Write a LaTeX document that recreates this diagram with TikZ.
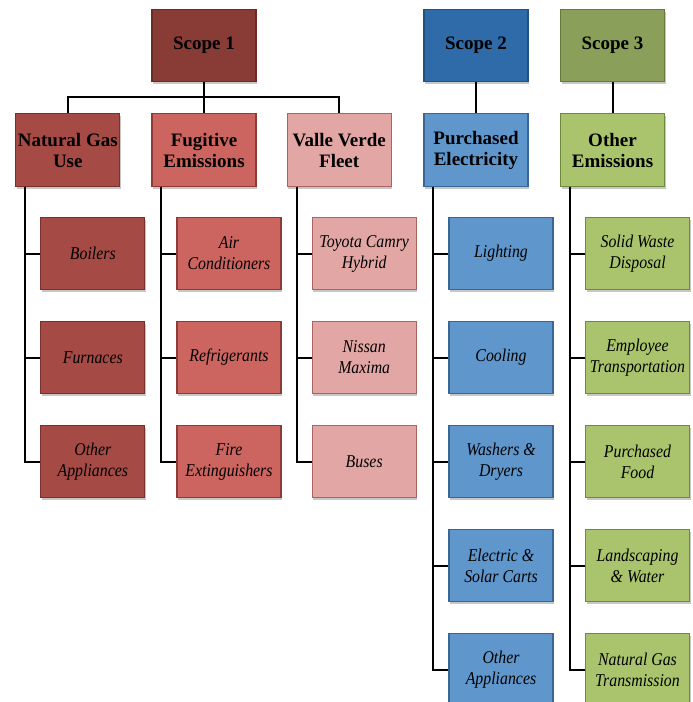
\documentclass[tikz,border=0pt]{standalone}
\usepackage{fontspec}
\setmainfont{Liberation Serif}
\newfontfamily\leaffont[FakeStretch=0.88]{Liberation Serif}
\usetikzlibrary{positioning,shadows}
\definecolor{sonefill}{HTML}{893B36}
\definecolor{sonedraw}{HTML}{6B2A26}
\definecolor{ngasfill}{HTML}{A54A44}
\definecolor{ngasdraw}{HTML}{78302C}
\definecolor{fugfill}{HTML}{CC6560}
\definecolor{fugdraw}{HTML}{8E3B37}
\definecolor{vallefill}{HTML}{E2A7A5}
\definecolor{valledraw}{HTML}{A86461}
\definecolor{stwofill}{HTML}{2E6BA8}
\definecolor{stwodraw}{HTML}{24527F}
\definecolor{elecfill}{HTML}{5F96CC}
\definecolor{elecdraw}{HTML}{3A6696}
\definecolor{sthreefill}{HTML}{8A9F59}
\definecolor{sthreedraw}{HTML}{66793A}
\definecolor{otherfill}{HTML}{A9C46C}
\definecolor{otherdraw}{HTML}{6E8A3C}
\tikzset{
  basebox/.style={draw, line width=1.2pt, minimum width=104pt, minimum height=72.3pt, inner xsep=2pt, align=center, drop shadow={shadow xshift=1pt, shadow yshift=-2.5pt, opacity=0.22, fill=black}},
  scopebox/.style={basebox, font=\fontsize{19}{21}\selectfont\bfseries},
  leafbox/.style={basebox, font=\leaffont\fontsize{18}{21}\selectfont\itshape},
  tree/.style={line width=2pt, black}
}
\begin{document}
\begin{tikzpicture}
\useasboundingbox (0,0) rectangle (693pt,-702pt);
% scopes
\node[scopebox, fill=sonefill, draw=sonedraw] (s1) at (204pt,-45.5pt) {Scope 1};
\node[scopebox, fill=stwofill, draw=stwodraw] (s2) at (476pt,-45.5pt) {Scope 2};
\node[scopebox, fill=sthreefill, draw=sthreedraw] (s3) at (612.5pt,-45.5pt) {Scope 3};
% categories
\node[scopebox, fill=fugfill, draw=fugdraw, below=31pt of s1] (fug) {Fugitive\\Emissions};
\node[scopebox, fill=ngasfill, draw=ngasdraw, left=31pt of fug] (ngas) {Natural Gas\\Use};
\node[scopebox, fill=vallefill, draw=valledraw, right=30pt of fug] (valle) {Valle Verde\\Fleet};
\node[scopebox, fill=elecfill, draw=elecdraw, below=31pt of s2] (elec) {Purchased\\Electricity};
\node[scopebox, fill=otherfill, draw=otherdraw, below=31pt of s3] (other) {Other\\Emissions};
% natural gas use
\node[leafbox, fill=ngasfill, draw=ngasdraw, below right=30pt and 25pt of ngas.south west] (ngas1) {Boilers};
\node[leafbox, fill=ngasfill, draw=ngasdraw, below=30.5pt of ngas1] (ngas2) {Furnaces};
\node[leafbox, fill=ngasfill, draw=ngasdraw, below=30.5pt of ngas2] (ngas3) {Other\\Appliances};
% fugitive emissions
\node[leafbox, fill=fugfill, draw=fugdraw, below right=30pt and 25pt of fug.south west] (fug1) {Air\\Conditioners};
\node[leafbox, fill=fugfill, draw=fugdraw, below=30.5pt of fug1] (fug2) {Refrigerants};
\node[leafbox, fill=fugfill, draw=fugdraw, below=30.5pt of fug2] (fug3) {Fire\\Extinguishers};
% fleet
\node[leafbox, fill=vallefill, draw=valledraw, below right=30pt and 25pt of valle.south west] (valle1) {Toyota Camry\\Hybrid};
\node[leafbox, fill=vallefill, draw=valledraw, below=30.5pt of valle1] (valle2) {Nissan\\Maxima};
\node[leafbox, fill=vallefill, draw=valledraw, below=30.5pt of valle2] (valle3) {Buses};
% electricity
\node[leafbox, fill=elecfill, draw=elecdraw, below right=30pt and 25pt of elec.south west] (elec1) {Lighting};
\node[leafbox, fill=elecfill, draw=elecdraw, below=30.5pt of elec1] (elec2) {Cooling};
\node[leafbox, fill=elecfill, draw=elecdraw, below=30.5pt of elec2] (elec3) {Washers \&\\Dryers};
\node[leafbox, fill=elecfill, draw=elecdraw, below=30.5pt of elec3] (elec4) {Electric \&\\Solar Carts};
\node[leafbox, fill=elecfill, draw=elecdraw, below=30.5pt of elec4] (elec5) {Other\\Appliances};
% other emissions
\node[leafbox, fill=otherfill, draw=otherdraw, below right=30pt and 25pt of other.south west] (other1) {Solid Waste\\Disposal};
\node[leafbox, fill=otherfill, draw=otherdraw, below=30.5pt of other1] (other2) {Employee\\Transportation};
\node[leafbox, fill=otherfill, draw=otherdraw, below=30.5pt of other2] (other3) {Purchased\\Food};
\node[leafbox, fill=otherfill, draw=otherdraw, below=30.5pt of other3] (other4) {Landscaping\\\& Water};
\node[leafbox, fill=otherfill, draw=otherdraw, below=30.5pt of other4] (other5) {Natural Gas\\Transmission};
% connectors
\draw[tree] (s1.south) -- ++(0,-15pt) coordinate (s1bar);
\draw[tree] (s1bar) -| (ngas.north);
\draw[tree] (s1bar) -| (valle.north);
\draw[tree] (s1bar) -- (fug.north);
\draw[tree] (s2) -- (elec);
\draw[tree] (s3) -- (other);
\foreach \p/\n in {ngas/3,fug/3,valle/3,elec/5,other/5}
  \foreach \i in {1,...,\n}
    \draw[tree] ([xshift=10pt]\p.south west) |- (\p\i.west);
\end{tikzpicture}
\end{document}
